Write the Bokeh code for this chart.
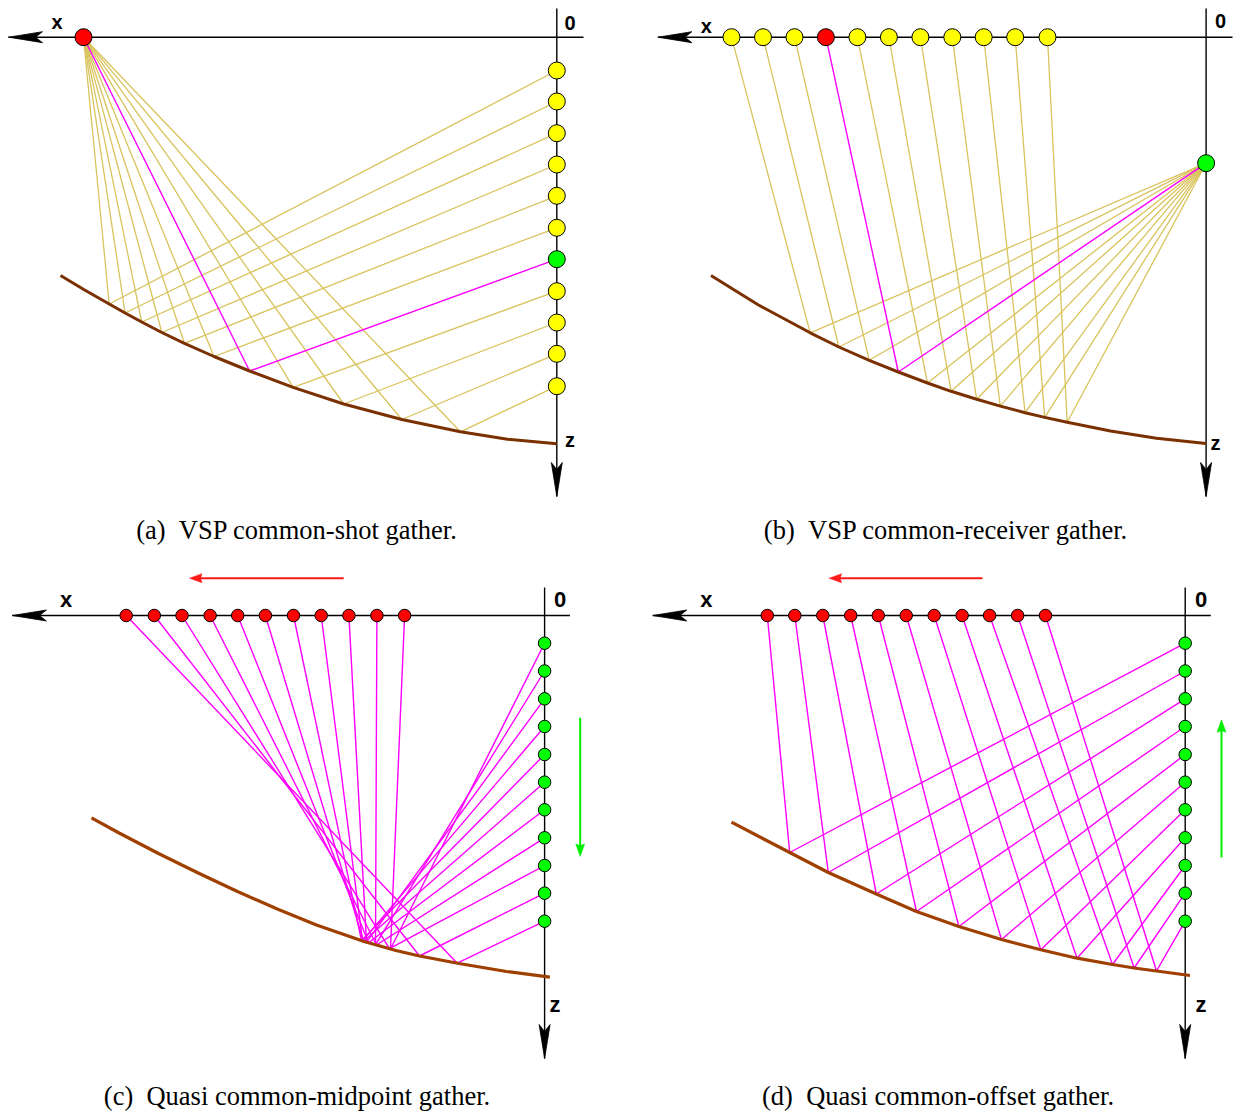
from bokeh.plotting import figure
from bokeh.models import Range1d
from bokeh.embed import file_html
from bokeh.resources import INLINE
from bokeh.core.properties import value

# ---------------- data (page pixel coordinates) ----------------
# Panel (a): VSP common-shot gather
A_SRC = (83.0, 36.7)
A_REC_X = 556.3
A_REC_Z = [70, 101, 132.7, 164, 195.3, 227.3, 258.7, 290.7, 322, 353.3, 385.7]
A_HILITE = 6
A_RP_X = [108.7, 124.6, 141.2, 161.3, 183.9, 213.5, 249.1, 292.6, 343.2, 401.3, 459.9]
A_RP_Z = [303.5, 312.5, 321.5, 332, 342.8, 356, 370.5, 386.8, 403.5, 419, 431.3]
A_CURVE_X = [60, 83.3, 108.7, 124.6, 141.2, 161.3, 183.9, 213.5, 249.1, 292.6, 343.2, 401.3, 459.9, 507, 556.3]
A_CURVE_Z = [275, 289, 303.5, 312.5, 321.5, 332, 342.8, 356, 370.5, 386.8, 403.5, 419, 431.3, 438.8, 443.3]

# Panel (b): VSP common-receiver gather
B_SRC_X = [731, 762.5, 794, 825.4, 856.9, 888.4, 919.9, 951.8, 983.2, 1014.7, 1047]
B_SRC_Z = 36.7
B_HILITE = 3
B_REC = (1205.6, 162.7)
B_RP_X = [809.7, 838.4, 868.7, 897.8, 927, 950.6, 976.2, 999.8, 1024.6, 1044.2, 1066.7]
B_RP_Z = [332.3, 346.5, 359.8, 371.5, 382.5, 390.8, 398.8, 405.6, 412.2, 416.9, 421.8]
B_CURVE_X = [710.5, 733, 758, 809.7, 838.4, 868.7, 897.8, 927, 950.6, 976.2, 999.8, 1024.6, 1044.2, 1066.7, 1110, 1156, 1205.6]
B_CURVE_Z = [275, 289, 304.5, 332.3, 346.5, 359.8, 371.5, 382.5, 390.8, 398.8, 405.6, 412.2, 416.9, 421.8, 430.5, 437.8, 443]

# Panel (c): quasi common-midpoint gather
C_SRC_X = [125.7, 153.8, 181.5, 209.6, 237.2, 264.9, 293, 320.7, 348.4, 376.4, 404.1]
C_SRC_Z = 615
C_REC_X = 544.1
C_REC_Z = [642.7, 670.5, 698.3, 726, 754, 781.7, 809.3, 837.3, 865, 892.7, 920.7]
C_PAIR_REC = [10, 9, 8, 7, 6, 5, 4, 3, 2, 1, 0]
C_RP_X = [456.7, 419, 389, 376, 368, 363, 361, 362, 366, 375, 390]
C_RP_Z = [962.7, 955.5, 948.2, 944.5, 942.2, 940.8, 940.1, 940.4, 941.7, 944.2, 948.5]
C_CURVE_X = [91, 118.6, 158, 197.7, 237, 276.8, 316, 363.6, 395.4, 419, 458.5, 506, 549.4]
C_CURVE_Z = [817.3, 832.5, 853, 872.5, 891, 908.5, 924.5, 941, 950, 955.5, 963, 971, 976.7]

# Panel (d): quasi common-offset gather
D_SRC_X = [766.8, 794.3, 822.3, 850.2, 877.8, 905.7, 933.7, 961.6, 989.1, 1017.1, 1045]
D_SRC_Z = 615
D_REC_X = 1184.7
D_REC_Z = [642.7, 670.5, 698.3, 726, 754, 781.7, 809.3, 837.3, 865, 892.7, 920.7]
D_RP_X = [789.2, 827.8, 875.8, 916, 958.4, 1001, 1040.3, 1076.5, 1112, 1133.6, 1156]
D_RP_Z = [852, 872, 893.5, 911, 926, 939, 949.3, 957.7, 964, 967.5, 970.5]
D_CURVE_X = [731, 789.2, 827.8, 875.8, 916, 958.4, 1001, 1040.3, 1076.5, 1112, 1133.6, 1156, 1189.5]
D_CURVE_Z = [821.7, 852, 872, 893.5, 911, 926, 939, 949.3, 957.7, 964, 967.5, 970.5, 975]

# axes: (start point, arrow tip)
AXES = [
    ((583, 36.7), (8, 36.7)), ((556.3, 8), (556.3, 496)),
    ((1232, 36.7), (657.4, 36.7)), ((1205.6, 8), (1205.6, 496)),
    ((569.4, 615), (11.9, 615)), ((544.1, 587), (544.1, 1058)),
    ((1210.3, 615), (652.3, 615)), ((1184.7, 587), (1184.7, 1058)),
]
# direction arrows (start, tip, colour)
DIR_ARROWS = [
    ((343.2, 577.7), (189, 577.7), "#ff1a1a"),
    ((579.7, 717.3), (579.7, 856), "#00ee00"),
    ((982, 577.7), (828.6, 577.7), "#ff1a1a"),
    ((1221, 857), (1221, 719.3), "#00ee00"),
]
TOP_LABELS = ["x", "0", "z", "x", "0", "z"]
TOP_LABEL_X = [56.5, 569.5, 569.4, 705.8, 1220, 1215]
TOP_LABEL_Z = [21.5, 22, 439.3, 25.3, 20.3, 442.7]
BOT_LABELS = ["x", "0", "z", "x", "0", "z"]
BOT_LABEL_X = [65.6, 559.5, 554.4, 705.8, 1200.5, 1200.5]
BOT_LABEL_Z = [598.7, 598.7, 1003.7, 598.7, 598.7, 1003.7]
CAPTIONS = ["(a)\u00a0\u00a0VSP common-shot gather.", "(b)\u00a0\u00a0VSP common-receiver gather.",
            "(c)\u00a0\u00a0Quasi common-midpoint gather.", "(d)\u00a0\u00a0Quasi common-offset gather."]
CAPTION_X = [296.5, 945.5, 296.5, 937.5]
CAPTION_Z = [529, 529, 1095, 1095]

YELLOW_RAY = "#d9c35c"
MAGENTA = "#ff00ff"

# ---------------- figure ----------------
W, H = 1237, 1112
p = figure(width=W, height=H, x_range=Range1d(0, W), y_range=Range1d(H, 0),
           output_backend="svg", toolbar_location=None,
           x_axis_location=None, y_axis_location=None, min_border=0)
p.grid.visible = False
p.outline_line_color = None

# axis lines
p.multi_line([[s[0], t[0]] for s, t in AXES], [[s[1], t[1]] for s, t in AXES],
             line_color="black", line_width=1.4)

# rays
yx, yz, mx, mz = [], [], [], []
for i, rz in enumerate(A_REC_Z):
    xs = [A_SRC[0], A_RP_X[i], A_REC_X]
    zs = [A_SRC[1], A_RP_Z[i], rz]
    (mx if i == A_HILITE else yx).append(xs)
    (mz if i == A_HILITE else yz).append(zs)
for i, sx in enumerate(B_SRC_X):
    xs = [sx, B_RP_X[i], B_REC[0]]
    zs = [B_SRC_Z, B_RP_Z[i], B_REC[1]]
    (mx if i == B_HILITE else yx).append(xs)
    (mz if i == B_HILITE else yz).append(zs)
for i, sx in enumerate(C_SRC_X):
    mx.append([sx, C_RP_X[i], C_REC_X])
    mz.append([C_SRC_Z, C_RP_Z[i], C_REC_Z[C_PAIR_REC[i]]])
for i, sx in enumerate(D_SRC_X):
    mx.append([sx, D_RP_X[i], D_REC_X])
    mz.append([D_SRC_Z, D_RP_Z[i], D_REC_Z[i]])
p.multi_line(yx, yz, line_color=YELLOW_RAY, line_width=1.3)
p.multi_line(mx, mz, line_color=MAGENTA, line_width=1.4)

# reflectors
p.line(A_CURVE_X, A_CURVE_Z, line_color="#7a3000", line_width=3, line_join="round")
p.line(B_CURVE_X, B_CURVE_Z, line_color="#7a3000", line_width=3, line_join="round")
p.line(C_CURVE_X, C_CURVE_Z, line_color="#a04000", line_width=3.2, line_join="round")
p.line(D_CURVE_X, D_CURVE_Z, line_color="#a04000", line_width=3.2, line_join="round")

# sources / receivers
a_cols = ["#00ff00" if i == A_HILITE else "#ffff00" for i in range(len(A_REC_Z))]
p.scatter([A_REC_X] * len(A_REC_Z), A_REC_Z, size=17, fill_color=a_cols, line_color="black", line_width=1)
p.scatter([A_SRC[0]], [A_SRC[1]], size=17, fill_color="#ff0000", line_color="black", line_width=1)
b_cols = ["#ff0000" if i == B_HILITE else "#ffff00" for i in range(len(B_SRC_X))]
p.scatter(B_SRC_X, [B_SRC_Z] * len(B_SRC_X), size=17, fill_color=b_cols, line_color="black", line_width=1)
p.scatter([B_REC[0]], [B_REC[1]], size=17, fill_color="#00ff00", line_color="black", line_width=1)
p.scatter(C_SRC_X, [C_SRC_Z] * len(C_SRC_X), size=12.5, fill_color="#ff0000", line_color="black", line_width=1)
p.scatter([C_REC_X] * len(C_REC_Z), C_REC_Z, size=12.5, fill_color="#00ff00", line_color="black", line_width=1)
p.scatter(D_SRC_X, [D_SRC_Z] * len(D_SRC_X), size=12.5, fill_color="#ff0000", line_color="black", line_width=1)
p.scatter([D_REC_X] * len(D_REC_Z), D_REC_Z, size=12.5, fill_color="#00ff00", line_color="black", line_width=1)


def head(start, tip, L, hw, notch):
    dx, dy = tip[0] - start[0], tip[1] - start[1]
    n = (dx * dx + dy * dy) ** 0.5
    dx, dy = dx / n, dy / n
    bx, by = tip[0] - L * dx, tip[1] - L * dy
    nx, ny = -dy, dx
    cx, cy = tip[0] - (L - notch) * dx, tip[1] - (L - notch) * dy
    return ([tip[0], bx + hw * nx, cx, bx - hw * nx], [tip[1], by + hw * ny, cy, by - hw * ny])


hx, hy = [], []
for s, t in AXES:
    px, py = head(s, t, 34, 5.5, 7)
    hx.append(px)
    hy.append(py)
p.patches(hx, hy, fill_color="black", line_color="black", line_width=0.8)

for s, t, c in DIR_ARROWS:
    px, py = head(s, t, 12.5, 4.5, 1.5)
    dx = (t[0] - s[0]); dy = (t[1] - s[1])
    n = (dx * dx + dy * dy) ** 0.5
    ex, ey = t[0] - 10 * dx / n, t[1] - 10 * dy / n
    p.line([s[0], ex], [s[1], ey], line_color=c, line_width=2)
    p.patch(px, py, fill_color=c, line_color=c, line_width=0.5)

# labels
p.text(TOP_LABEL_X, TOP_LABEL_Z, text=TOP_LABELS, text_font=value("Liberation Sans"),
       text_font_style="bold", text_font_size="20px", text_align="center",
       text_baseline="alphabetic", text_color="black")
p.text(BOT_LABEL_X, BOT_LABEL_Z, text=BOT_LABELS, text_font=value("Liberation Sans"),
       text_font_style="bold", text_font_size="22px", text_align="center",
       text_baseline="alphabetic", text_color="black")
p.text(CAPTION_X, CAPTION_Z, text=CAPTIONS, text_font=value("Liberation Serif"),
       text_font_size="26.5px", text_align="center", text_baseline="alphabetic", text_color="black")

open("out.html", "w").write(file_html(p, INLINE))
